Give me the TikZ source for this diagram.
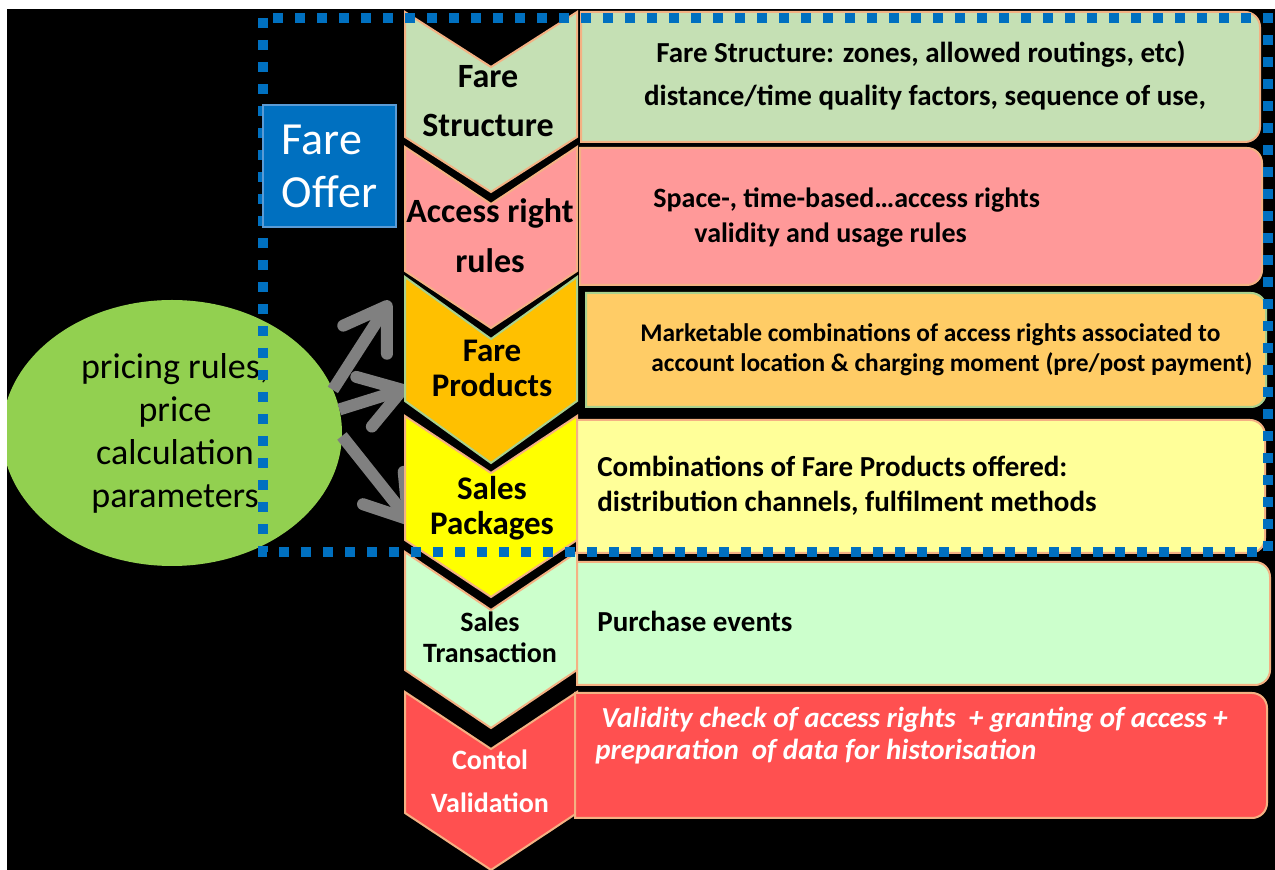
\documentclass[tikz,border=0pt]{standalone}
\usepackage{fontspec}
\setmainfont{Carlito}
\usetikzlibrary{arrows.meta,shapes.geometric}

\definecolor{offerblue}{RGB}{0,112,192}
\definecolor{offeredge}{RGB}{91,155,213}
\definecolor{salmon}{RGB}{244,177,131}
\definecolor{sagegreen}{RGB}{169,209,142}
\definecolor{fsgreen}{RGB}{197,224,180}
\definecolor{arpink}{RGB}{255,153,153}
\definecolor{fporange}{RGB}{255,192,0}
\definecolor{fplight}{RGB}{255,204,102}
\definecolor{spyellow}{RGB}{255,255,0}
\definecolor{splight}{RGB}{255,255,153}
\definecolor{stgreen}{RGB}{204,255,204}
\definecolor{cvred}{RGB}{255,80,80}
\definecolor{pricegreen}{RGB}{146,208,80}
\definecolor{arrowgray}{RGB}{128,128,128}

% chevron: style, top, end of sides, depth
\newcommand{\chev}[4]{\filldraw[#1] (405,#2) -- (491,#2+#4) -- (577,#2) -- (577,#3) -- (491,#3+#4) -- (405,#3) -- cycle;}
% box with rounded right corners: style, x1, y1, x2, y2
\newcommand{\sidebox}[5]{\filldraw[#1] (#2,#3) -- (#4-15,#3) arc[start angle=-90, end angle=0, radius=15] -- (#4,#5-15) arc[start angle=0, end angle=90, radius=15] -- (#2,#5) -- cycle;}

\begin{document}
\begin{tikzpicture}[x=0.5pt, y=-0.5pt,
  chevshape/.style={draw=salmon, line width=1pt},
  chevlbl/.style 2 args={font=\bfseries\fontsize{#1}{#2}\selectfont, align=center, anchor=base, inner sep=0},
  desc/.style={font=\bfseries\fontsize{14.5}{17}\selectfont, anchor=base west, inner sep=0},
  push/.style={draw=arrowgray, line width=6pt, -{Straight Barb[length=20pt, width=26pt, round]}},
  offerline/.style={draw=offerblue, line width=5pt, dash pattern=on 5pt off 6pt}]
\useasboundingbox (0,0) rectangle (1275,870);
\fill[white] (0,0) rectangle (1275,870);
\fill[black] (7,9) rectangle (1275,870);
\begin{scope}
\clip (7,9) rectangle (1275,870);

% pricing
\node[ellipse, fill=pricegreen, minimum width=170pt, minimum height=133pt, inner sep=0, outer sep=0] (pr) at (172,433) {};
\coordinate (a1) at (390,301);
\coordinate (a2) at (408,388);
\coordinate (a3) at (412,524);
\draw[push] (pr.15) -- (a1);
\draw[push] (pr.8) -- (a2);
\draw[push] (pr.-1) -- (a3);

% chevrons
\chev{fill=fsgreen, chevshape}{12}{137}{55}
\chev{fill=arpink, chevshape}{147}{271}{57}
\chev{fill=fporange, chevshape, draw=sagegreen}{277}{401}{62}
\chev{fill=spyellow, chevshape}{416}{540}{57}
\chev{fill=stgreen, chevshape}{552}{670}{58}
\chev{fill=cvred, chevshape}{692}{813}{57}

% boxes
\sidebox{fill=fsgreen, chevshape}{581}{12}{1260}{142}
\sidebox{fill=arpink, chevshape}{580}{148}{1262}{285}
\sidebox{fill=fplight, chevshape, draw=sagegreen}{586}{293}{1266}{407}
\sidebox{fill=splight, chevshape}{577}{420}{1265}{553}
\sidebox{fill=stgreen, chevshape}{577}{562}{1270}{685}
\sidebox{fill=cvred, chevshape}{575}{693}{1267}{818}

\node[font=\fontsize{18}{21.5}\selectfont, align=center, anchor=base, inner sep=0] (prt) at (175,508) {pricing rules,\\price\\calculation\\parameters};

\node[chevlbl={17}{24.5}] (fs) at (488,137) {Fare\\Structure};
\node[chevlbl={17}{25}] (ar) at (490,273) {Access right\\rules};
\node[chevlbl={16.5}{17.5}] (fp) at (492,397) {Fare\\Products};
\node[chevlbl={16.5}{17.5}] (sp) at (492,535) {Sales\\Packages};
\node[chevlbl={14}{15.5}] (st) at (490,663) {Sales\\Transaction};
\node[chevlbl={14}{21.5}, text=white] (cv) at (490,813) {Contol\\Validation};

\node[desc, anchor=base] (fs1) at (921,63) {Fare Structure: zones, allowed routings, etc)};
\node[desc, anchor=base] (fs2) at (925,106) {distance/time quality factors, sequence of use,};
\node[desc, font=\bfseries\fontsize{14}{17}\selectfont] (ar1) at (653,208) {Space-, time-based…access rights};
\node[desc, font=\bfseries\fontsize{14}{17}\selectfont] (ar2) at (694,243) {validity and usage rules};
\node[desc, font=\bfseries\fontsize{12.7}{15}\selectfont] (fp1) at (640,342) {Marketable combinations of access rights associated to};
\node[desc, font=\bfseries\fontsize{12.7}{15}\selectfont] (fp2) at (651,372) {account location \& charging moment (pre/post payment)};
\node[desc] (sp1) at (597,477) {Combinations of Fare Products offered:};
\node[desc] (sp2) at (597,512) {distribution channels, fulfilment methods};
\node[desc] (st1) at (597,632) {Purchase events};
\node[desc, font=\bfseries\itshape\fontsize{14.5}{17}\selectfont, text=white] (cv1) at (601,728) {Validity check of access rights\ \ + granting\ of access +};
\node[desc, font=\bfseries\itshape\fontsize{14.5}{17}\selectfont, text=white] (cv2) at (595,760) {preparation\ \ of data for historisation};

% fare offer frame
\draw[offerline] (263,18) rectangle (1268,552);
\node[fill=offerblue, draw=offeredge, line width=1pt, minimum width=66.5pt, minimum height=61pt, inner sep=0, text=white, font=\fontsize{23}{26.5}\selectfont, align=left] (fo) at (329.5,166) {Fare\\Offer};
\end{scope}
\end{tikzpicture}
\end{document}
